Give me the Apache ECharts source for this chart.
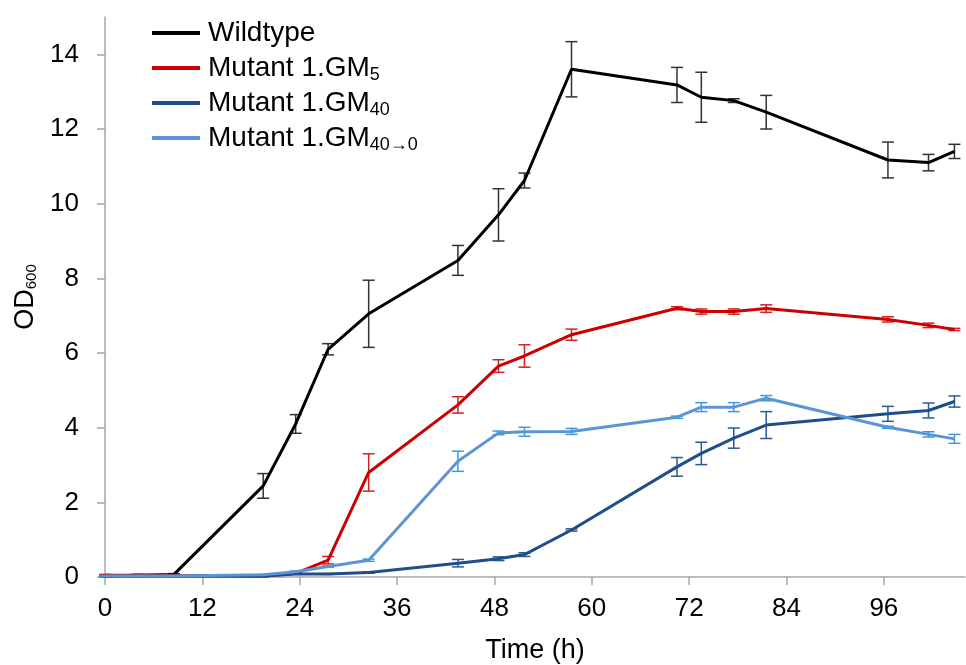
<!DOCTYPE html>
<html>
<head>
<meta charset="utf-8">
<script src="https://cdn.jsdelivr.net/npm/echarts@6/dist/echarts.min.js"></script>
<style>
  html, body { margin: 0; padding: 0; background: #fff; }
  #chart { width: 966px; height: 665px; }
</style>
</head>
<body>
<div id="chart"></div>
<script>
// sampling times (h)
var times = [0, 4, 8.5, 19.5, 23.5, 27.5, 32.5, 43.5, 48.5, 51.7, 57.5, 70.5, 73.5, 77.5, 81.5, 96.5, 101.5, 104.7];

// OD600 means and error (±)
var wildtype    = [0.03, 0.05, 0.07, 2.44, 4.1, 6.1, 7.05, 8.48, 9.7, 10.62, 13.6, 13.18, 12.85, 12.76, 12.45, 11.17, 11.1, 11.4];
var wildtypeErr = [0.02, 0.02, 0.02, 0.33, 0.25, 0.15, 0.9, 0.4, 0.7, 0.2, 0.74, 0.47, 0.67, 0.05, 0.45, 0.48, 0.22, 0.19];

var gm5    = [0.05, 0.05, 0.04, 0.02, 0.1, 0.45, 2.8, 4.61, 5.65, 5.92, 6.49, 7.2, 7.11, 7.11, 7.19, 6.9, 6.74, 6.63];
var gm5Err = [0.02, 0.01, 0.01, 0.01, 0.02, 0.1, 0.5, 0.22, 0.17, 0.3, 0.15, 0.04, 0.07, 0.07, 0.1, 0.07, 0.06, 0.03];

var gm40    = [0.02, 0.02, 0.02, 0.03, 0.08, 0.08, 0.12, 0.37, 0.49, 0.6, 1.26, 2.95, 3.31, 3.72, 4.07, 4.37, 4.46, 4.7];
var gm40Err = [0.01, 0.01, 0.01, 0.01, 0.01, 0.01, 0.02, 0.1, 0.05, 0.05, 0.03, 0.25, 0.3, 0.27, 0.36, 0.2, 0.2, 0.15];

var gm40to0    = [0.03, 0.03, 0.03, 0.06, 0.14, 0.28, 0.45, 3.1, 3.86, 3.89, 3.9, 4.28, 4.55, 4.55, 4.79, 4.01, 3.82, 3.7];
var gm40to0Err = [0.01, 0.01, 0.01, 0.01, 0.02, 0.02, 0.03, 0.27, 0.05, 0.12, 0.08, 0.03, 0.12, 0.12, 0.07, 0.03, 0.07, 0.12];

var seriesNames = ["Wildtype", "Mutant 1.GM5", "Mutant 1.GM40", "Mutant 1.GM40→0"];
var legendLabels = ["Wildtype", "Mutant 1.GM{sub|5}", "Mutant 1.GM{sub|40}", "Mutant 1.GM{sub|40→0}"];
var lineColors = ["#000000", "#cc0000", "#1f4e8a", "#5b95d6"];
var errColors = ["#333333", "#d42020", "#2d5a90", "#3a9ae0"];

var means = [wildtype, gm5, gm40, gm40to0];
var errs = [wildtypeErr, gm5Err, gm40Err, gm40to0Err];

function pairs(ys) {
  return times.map(function (t, i) { return [t, ys[i]]; });
}

function errorSeries(k) {
  var data = times.map(function (t, i) {
    return [t, means[k][i] - errs[k][i], means[k][i] + errs[k][i]];
  });
  return {
    type: "custom",
    name: seriesNames[k] + " err",
    silent: true,
    z: 1,
    data: data,
    encode: { x: 0, y: [1, 2] },
    renderItem: function (params, api) {
      var lo = api.coord([api.value(0), api.value(1)]);
      var hi = api.coord([api.value(0), api.value(2)]);
      var w = 6;
      var style = { stroke: errColors[k], lineWidth: 1.5 };
      return {
        type: "group",
        children: [
          { type: "line", shape: { x1: lo[0], y1: lo[1], x2: hi[0], y2: hi[1] }, style: style },
          { type: "line", shape: { x1: lo[0] - w, y1: lo[1], x2: lo[0] + w, y2: lo[1] }, style: style },
          { type: "line", shape: { x1: hi[0] - w, y1: hi[1], x2: hi[0] + w, y2: hi[1] }, style: style }
        ]
      };
    }
  };
}

var series = [];
for (var k = 0; k < 4; k++) {
  series.push({
    type: "line",
    name: seriesNames[k],
    data: pairs(means[k]),
    symbol: "none",
    z: 3,
    lineStyle: { color: lineColors[k], width: 3 },
    itemStyle: { color: lineColors[k] }
  });
}
for (var k2 = 0; k2 < 4; k2++) series.push(errorSeries(k2));

var chart = echarts.init(document.getElementById("chart"));
chart.setOption({
  animation: false,
  grid: { left: 105, right: 1, top: 17, bottom: 88, outerBoundsMode: "none", containLabel: false },
  legend: {
    data: seriesNames,
    orient: "vertical",
    left: 147,
    top: 12,
    itemWidth: 48,
    itemHeight: 4,
    itemGap: 3,
    icon: "rect",
    formatter: function (name) {
      return legendLabels[seriesNames.indexOf(name)];
    },
    textStyle: {
      fontFamily: "Liberation Sans",
      fontSize: 28,
      lineHeight: 32,
      color: "#000",
      padding: [0, 0, 0, 3],
      rich: {
        sub: { fontFamily: "Liberation Sans", fontSize: 18, color: "#000", lineHeight: 32, verticalAlign: "bottom", padding: [12, 0, 0, 0] }
      }
    }
  },
  xAxis: {
    type: "value",
    min: 0,
    max: 106,
    interval: 12,
    name: "Time (h)",
    nameLocation: "middle",
    nameGap: 60,
    nameTextStyle: { fontFamily: "Liberation Sans", fontSize: 27, color: "#000" },
    axisLine: { lineStyle: { color: "#a6a6a6", width: 1.5 } },
    axisTick: { show: true, length: 8, lineStyle: { color: "#a6a6a6", width: 1.5 } },
    axisLabel: { fontFamily: "Liberation Sans", fontSize: 26, color: "#000", margin: 19, showMaxLabel: false },
    splitLine: { show: false }
  },
  yAxis: {
    type: "value",
    min: 0,
    max: 15,
    interval: 2,
    name: "OD{sub|600}",
    nameLocation: "middle",
    nameRotate: 90,
    nameGap: 62,
    nameTextStyle: {
      fontFamily: "Liberation Sans",
      fontSize: 27,
      color: "#000",
      rich: {
        sub: { fontFamily: "Liberation Sans", fontSize: 15, color: "#000", verticalAlign: "bottom", padding: [12, 0, 0, 0] }
      }
    },
    axisLine: { show: true, lineStyle: { color: "#a6a6a6", width: 1.5 } },
    axisTick: { show: true, length: 8, lineStyle: { color: "#a6a6a6", width: 1.5 } },
    axisLabel: { fontFamily: "Liberation Sans", fontSize: 26, color: "#000", margin: 26, showMaxLabel: false },
    splitLine: { show: false }
  },
  series: series
});
</script>
</body>
</html>
